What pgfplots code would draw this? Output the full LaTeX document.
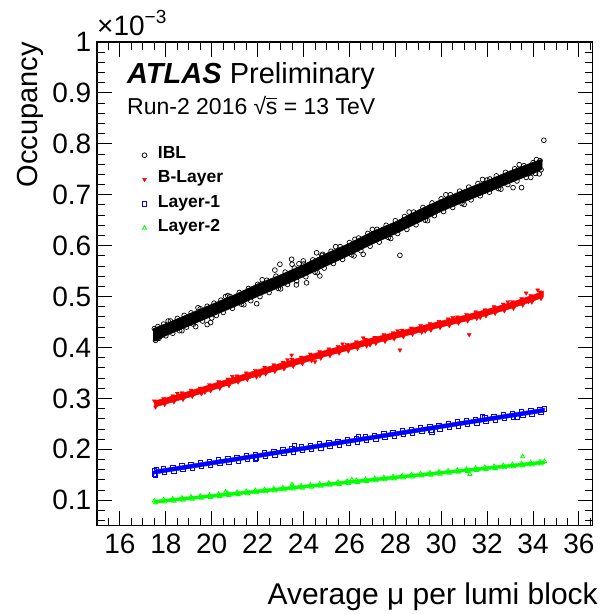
\documentclass[border=0pt]{standalone}
\usepackage{fontspec}
\setmainfont{Liberation Sans}
\usepackage{pgfplots}
\pgfplotsset{compat=1.18}
\definecolor{rootred}{RGB}{255,0,0}
\definecolor{rootblue}{RGB}{0,0,255}
\definecolor{rootgreen}{RGB}{0,255,0}
\begin{document}
\begin{tikzpicture}
\useasboundingbox (-97pt,-88.3pt) rectangle (507pt,525.7pt);
\begin{axis}[
  at={(0pt,0pt)}, anchor=south west,
  scale only axis, width=495.7pt, height=483.7pt,
  xmin=15, xmax=36.6, ymin=0.05, ymax=1.0,
  xtick={16,18,20,22,24,26,28,30,32,34,36},
  xticklabels={16,18,20,22,24,26,28,30,32,34,36},
  minor xtick={15,15.5,16,16.5,17,17.5,18,18.5,19,19.5,20,20.5,21,21.5,22,22.5,23,23.5,24,24.5,25,25.5,26,26.5,27,27.5,28,28.5,29,29.5,30,30.5,31,31.5,32,32.5,33,33.5,34,34.5,35,35.5,36,36.5},
  ytick={0.1,0.2,0.3,0.4,0.5,0.6,0.7,0.8,0.9,1.0},
  yticklabels={0.1,0.2,0.3,0.4,0.5,0.6,0.7,0.8,0.9,1},
  minor ytick={0.06,0.08,0.12,0.14,0.16,0.18,0.22,0.24,0.26,0.28,0.32,0.34,0.36,0.38,0.42,0.44,0.46,0.48,0.52,0.54,0.56,0.58,0.62,0.64,0.66,0.68,0.72,0.74,0.76,0.78,0.82,0.84,0.86,0.88,0.92,0.94,0.96,0.98},
  tick pos=both, tick align=inside,
  major tick length=15pt, minor tick length=8pt,
  every tick/.style={black, line width=0.9pt},
  axis line style={line width=1.2pt},
  ticklabel style={font=\fontsize{28}{28}\selectfont, inner sep=0pt},
  yticklabel style={xshift=-5.5pt},
  xticklabel style={yshift=-8.3pt},
  xlabel={Average μ per lumi block},
  xlabel style={at={(axis description cs:1.0107,-0.1633)}, anchor=base east, inner sep=0pt, font=\fontsize{30}{30}\selectfont},
  ylabel={Occupancy},
  ylabel style={at={(axis description cs:-0.120,1)}, anchor=base east, inner sep=0pt, font=\fontsize{29}{29}\selectfont},
  legend style={draw=none, fill=none, inner sep=0pt, outer sep=0pt,
    at={(axis description cs:0.091,0.791)}, anchor=north west,
    font=\fontsize{17.5}{17.5}\selectfont\bfseries, row sep=0pt,
    nodes={inner sep=0pt, text height=15.5pt, text depth=8.8pt},
    /tikz/every odd column/.append style={column sep=11pt}},
  legend cell align=left,
]
% ---------------- IBL ----------------
\addplot[fill=black, draw=black, line width=0.4pt, forget plot] coordinates {
(17.45,0.437) (17.6,0.440) (18,0.447) (19,0.466) (20,0.485) (21,0.504) (22,0.525) (23,0.543) (24,0.563) (25,0.585) (26,0.605) (27,0.628) (28,0.647) (29,0.670) (30,0.691) (31,0.710) (32,0.728) (33,0.747) (34,0.764) (34.4,0.770)
(34.4,0.750) (34,0.741) (33,0.723) (32,0.704) (31,0.686) (30,0.667) (29,0.645) (28,0.623) (27,0.603) (26,0.581) (25,0.560) (24,0.539) (23,0.519) (22,0.500) (21,0.480) (20,0.461) (19,0.442) (18,0.423) (17.6,0.413) (17.45,0.412) (17.45,0.437)};
\addplot[only marks, mark=o, mark size=2.4pt, black, mark options={line width=0.7pt}] coordinates {
(17.5,0.437) (17.55,0.414) (17.65,0.441) (17.7,0.418) (17.9,0.446) (18.0,0.423) (18.2,0.452) (18.3,0.428)
(18.5,0.457) (18.6,0.433) (18.8,0.463) (18.9,0.440) (19.1,0.468) (19.2,0.446) (19.3,0.441) (19.8,0.445) (19.95,0.449)
(19.5,0.476) (19.6,0.452) (19.8,0.481) (20.1,0.487) (20.2,0.463) (20.4,0.493) (20.5,0.469) (20.7,0.502)
(20.8,0.500) (20.9,0.477) (21.2,0.508) (21.3,0.485) (21.6,0.516) (21.7,0.492) (21.96,0.486) (22.0,0.524) (22.1,0.500)
(22.4,0.532) (22.5,0.508) (22.75,0.552) (22.8,0.540) (22.9,0.516) (22.97,0.5635) (23.2,0.548) (23.3,0.524)
(23.48,0.5733) (23.5,0.5635) (23.69,0.523) (23.6,0.556) (23.7,0.531) (23.99,0.570) (24.0,0.564) (24.1,0.539)
(24.13,0.527) (24.4,0.572) (24.5,0.548) (24.57,0.586) (24.71,0.5405) (24.8,0.581) (24.83,0.583) (24.9,0.556)
(25.2,0.589) (25.3,0.565) (25.6,0.598) (25.7,0.573) (26.0,0.606) (26.1,0.582) (26.24,0.6125) (26.4,0.615)
(26.5,0.590) (26.6,0.583) (26.8,0.624) (26.9,0.599) (27.2,0.632) (27.3,0.607) (27.6,0.640) (27.7,0.616)
(27.98,0.6386) (28.0,0.649) (28.1,0.624) (28.4,0.657) (28.5,0.632) (28.8,0.666) (28.9,0.641) (29.2,0.675)
(29.3,0.650) (29.5,0.676) (29.6,0.684) (29.7,0.659) (30.0,0.692) (30.08,0.684) (30.1,0.667) (30.4,0.700)
(30.5,0.675) (30.8,0.707) (30.9,0.683) (31.2,0.715) (31.3,0.690) (31.6,0.722) (31.7,0.698) (32.0,0.729)
(32.1,0.705) (32.12,0.731) (32.4,0.737) (32.5,0.712) (32.8,0.744) (32.9,0.720) (32.99,0.737) (33.13,0.714)
(33.2,0.751) (33.3,0.727) (33.5,0.714) (33.6,0.757) (33.7,0.734) (34.0,0.763) (34.1,0.742) (34.15,0.769)
(34.27,0.741) (34.3,0.767) (34.35,0.749) (28.2,0.581) (34.47,0.807)
(18.1,0.452) (18.7,0.433) (19.4,0.478) (20.0,0.458) (20.6,0.500) (21.4,0.484) (22.2,0.533) (23.0,0.515)
(23.8,0.5645) (24.6,0.547) (25.4,0.598) (26.2,0.580) (27.0,0.632) (27.8,0.614) (28.6,0.666) (29.4,0.649)
(30.2,0.700) (31.0,0.681) (31.8,0.730) (32.6,0.711) (33.4,0.759) (33.9,0.734)};
\addlegendentry{IBL}
% ---------------- B-Layer ----------------
\addplot[fill=rootred, draw=rootred, line width=0.4pt, forget plot] coordinates {
(17.5,0.295) (18,0.301) (19,0.314) (20,0.328) (21,0.342) (22,0.356) (23,0.369) (24,0.382) (25,0.395) (26,0.407) (27,0.419) (28,0.430) (29,0.441) (30,0.452) (31,0.463) (32,0.475) (33,0.488) (34,0.503) (34.45,0.511)
(34.45,0.499) (34,0.491) (33,0.476) (32,0.463) (31,0.451) (30,0.440) (29,0.429) (28,0.418) (27,0.407) (26,0.395) (25,0.383) (24,0.370) (23,0.357) (22,0.344) (21,0.330) (20,0.316) (19,0.302) (18,0.289) (17.5,0.283) (17.5,0.295)};
\addplot[only marks, mark=triangle*, mark size=2.3pt, color=rootred, fill=rootred, mark options={rotate=180, line width=0.3pt}] coordinates {
(17.5,0.295) (17.55,0.283) (17.9,0.300) (17.95,0.288) (18.3,0.305) (18.35,0.293) (18.7,0.311) (18.75,0.298)
(19.1,0.316) (19.15,0.304) (19.5,0.320) (19.55,0.309) (19.9,0.327) (19.95,0.315) (20.3,0.333) (20.35,0.320)
(20.7,0.338) (20.75,0.325) (21.1,0.344) (21.15,0.332) (21.5,0.350) (21.55,0.337) (21.9,0.355) (21.95,0.342)
(22.3,0.361) (22.35,0.348) (22.7,0.366) (22.75,0.353) (23.1,0.371) (23.15,0.358) (23.5,0.377) (23.55,0.363)
(23.9,0.381) (23.95,0.368) (24.3,0.387) (24.35,0.374) (24.7,0.392) (24.75,0.379) (25.1,0.397) (25.15,0.384)
(25.5,0.402) (25.55,0.389) (25.9,0.406) (25.95,0.393) (26.3,0.411) (26.35,0.398) (26.7,0.416) (26.75,0.403)
(27.1,0.420) (27.15,0.408) (27.5,0.425) (27.55,0.412) (27.9,0.429) (27.95,0.417) (28.3,0.434) (28.35,0.421)
(28.7,0.438) (28.75,0.426) (29.1,0.443) (29.15,0.430) (29.5,0.447) (29.55,0.434) (29.9,0.451) (29.95,0.439)
(30.3,0.456) (30.35,0.443) (30.7,0.460) (30.75,0.448) (31.1,0.465) (31.15,0.452) (31.5,0.470) (31.55,0.457)
(31.9,0.474) (31.95,0.462) (32.3,0.480) (32.35,0.467) (32.7,0.485) (32.75,0.472) (33.1,0.490) (33.15,0.477)
(33.5,0.496) (33.55,0.483) (33.9,0.502) (33.95,0.489) (34.3,0.509) (34.35,0.496)
(18.5,0.310) (19.7,0.312) (20.9,0.343) (22.1,0.345) (23.3,0.376) (24.5,0.372) (25.7,0.407) (26.9,0.405)
(28.1,0.433) (29.3,0.432) (30.5,0.459) (31.7,0.459) (32.9,0.490) (33.8,0.490)
(28.2,0.395) (31.22,0.425) (23.48,0.385) (33.7,0.507) (34.2,0.513) (26.6,0.419)};
\addlegendentry{B-Layer}
% ---------------- Layer-1 ----------------
\addplot[fill=rootblue, draw=rootblue, line width=0.4pt, forget plot] coordinates {
(17.5,0.1593) (18,0.1629) (19,0.1700) (20,0.1772) (21,0.1843) (22,0.1915) (23,0.1987) (24,0.2058) (25,0.2130) (26,0.2202) (27,0.2273) (28,0.2345) (29,0.2416) (30,0.2488) (31,0.2560) (32,0.2631) (33,0.2703) (34,0.2774) (34.5,0.2810)
(34.5,0.2730) (34,0.2694) (33,0.2623) (32,0.2551) (31,0.2480) (30,0.2408) (29,0.2336) (28,0.2265) (27,0.2193) (26,0.2122) (25,0.2050) (24,0.1978) (23,0.1907) (22,0.1835) (21,0.1763) (20,0.1692) (19,0.1620) (18,0.1549) (17.5,0.1513) (17.5,0.1593)};
\addplot[only marks, mark=square, mark size=2.2pt, color=rootblue, mark options={draw=rootblue, line width=0.8pt}] coordinates {
(17.5,0.159) (17.5,0.152) (17.55,0.150) (17.6,0.161) (17.9,0.1615) (17.95,0.1545) (18.3,0.1645) (18.35,0.1575)
(18.7,0.1675) (18.75,0.1605) (19.1,0.170) (19.15,0.163) (19.5,0.173) (19.55,0.166) (19.9,0.176) (19.95,0.169)
(20.3,0.179) (20.35,0.172) (20.7,0.182) (20.75,0.1745) (21.1,0.1845) (21.15,0.1775) (21.5,0.1875) (21.55,0.1805)
(21.9,0.190) (21.95,0.183) (22.3,0.193) (22.35,0.186) (22.7,0.196) (22.75,0.189) (23.1,0.199) (23.15,0.192)
(23.5,0.2015) (23.55,0.1945) (23.9,0.2045) (23.95,0.1975) (24.3,0.2075) (24.35,0.2005) (24.7,0.2105) (24.75,0.203)
(25.1,0.213) (25.15,0.206) (25.5,0.216) (25.55,0.209) (25.9,0.219) (25.95,0.212) (26.3,0.222) (26.35,0.2145)
(26.7,0.2245) (26.75,0.2175) (27.1,0.2275) (27.15,0.2205) (27.5,0.2305) (27.55,0.2235) (27.9,0.233) (27.95,0.226)
(28.3,0.236) (28.35,0.229) (28.7,0.239) (28.75,0.232) (29.1,0.242) (29.15,0.235) (29.5,0.245) (29.55,0.2375)
(29.9,0.2475) (29.95,0.2405) (30.3,0.2505) (30.35,0.2435) (30.7,0.2535) (30.75,0.246) (31.1,0.256) (31.15,0.249)
(31.5,0.259) (31.55,0.252) (31.9,0.262) (31.95,0.255) (32.3,0.265) (32.35,0.258) (32.7,0.2675) (32.75,0.2605)
(33.1,0.2705) (33.15,0.2635) (33.5,0.2735) (33.55,0.2665) (33.9,0.2765) (33.95,0.269) (34.3,0.279) (34.35,0.272) (34.5,0.2795)
(21.9,0.1805) (23.6,0.2075) (26.4,0.2255) (29.6,0.2345) (31.8,0.2645) (33.3,0.2625)};
\addlegendentry{Layer-1}
% ---------------- Layer-2 ----------------
\addplot[fill=rootgreen, draw=rootgreen, line width=0.4pt, forget plot] coordinates {
(17.5,0.1000) (18,0.1023) (19,0.1069) (20,0.1114) (21,0.1160) (22,0.1205) (23,0.1251) (24,0.1297) (25,0.1342) (26,0.1388) (27,0.1433) (28,0.1479) (29,0.1524) (30,0.1570) (31,0.1616) (32,0.1661) (33,0.1707) (34,0.1752) (34.5,0.1775)
(34.5,0.1715) (34,0.1692) (33,0.1647) (32,0.1601) (31,0.1556) (30,0.1510) (29,0.1464) (28,0.1419) (27,0.1373) (26,0.1328) (25,0.1282) (24,0.1237) (23,0.1191) (22,0.1145) (21,0.1100) (20,0.1054) (19,0.1009) (18,0.0963) (17.5,0.0940) (17.5,0.1000)};
\addplot[only marks, mark=triangle, mark size=2.4pt, color=rootgreen, mark options={draw=rootgreen, line width=0.8pt}] coordinates {
(17.5,0.099) (17.55,0.095) (17.9,0.101) (17.95,0.097) (18.3,0.1028) (18.35,0.0987) (18.7,0.1046) (18.75,0.1005)
(19.1,0.1064) (19.15,0.1023) (19.5,0.1083) (19.55,0.1042) (19.9,0.1101) (19.95,0.106) (20.3,0.1119) (20.35,0.1078)
(20.7,0.1137) (20.75,0.1096) (21.1,0.1155) (21.15,0.1114) (21.5,0.1174) (21.55,0.1133) (21.9,0.1192) (21.95,0.1151)
(22.3,0.121) (22.35,0.1169) (22.7,0.1228) (22.75,0.1187) (23.1,0.1247) (23.15,0.1206) (23.5,0.1265) (23.55,0.1224)
(23.9,0.1283) (23.95,0.1242) (24.3,0.1301) (24.35,0.126) (24.7,0.1319) (24.75,0.1278) (25.1,0.1338) (25.15,0.1297)
(25.5,0.1356) (25.55,0.1315) (25.9,0.1374) (25.95,0.1333) (26.3,0.1392) (26.35,0.1351) (26.7,0.1411) (26.75,0.137)
(27.1,0.1429) (27.15,0.1388) (27.5,0.1447) (27.55,0.1406) (27.9,0.1465) (27.95,0.1424) (28.3,0.1483) (28.35,0.1442)
(28.7,0.1502) (28.75,0.1461) (29.1,0.152) (29.15,0.1479) (29.5,0.1538) (29.55,0.1497) (29.9,0.1556) (29.95,0.1515)
(30.3,0.1575) (30.35,0.1534) (30.7,0.1593) (30.75,0.1552) (31.1,0.1611) (31.15,0.157) (31.5,0.1629) (31.55,0.1588)
(31.9,0.1648) (31.95,0.1607) (32.3,0.1666) (32.35,0.1625) (32.7,0.1684) (32.75,0.1643) (33.1,0.1702) (33.15,0.1661)
(33.5,0.172) (33.55,0.1679) (33.9,0.1739) (33.95,0.1698) (34.3,0.1757) (34.35,0.1716) (34.5,0.1765)
(33.55,0.1857) (31.25,0.151) (23.5,0.131) (20.6,0.1165) (26.1,0.1405)};
\addlegendentry{Layer-2}
\end{axis}
% annotations
\node[anchor=base west, inner sep=0pt, font=\fontsize{28}{28}\selectfont] at (0pt,489.7pt) {×10\raisebox{12pt}{\fontsize{19}{19}\selectfont −3}};
\node[anchor=base west, inner sep=0pt, font=\fontsize{29}{29}\selectfont] at (30pt,441.7pt) {\textbf{\textit{ATLAS}} Preliminary};
\node[anchor=base west, inner sep=0pt, font=\fontsize{23}{23}\selectfont] at (30pt,410.7pt) {Run-2 2016 √\kern-0.5pt\rlap{\rule[16.5pt]{0.5em}{0.9pt}}s = 13 TeV};
\end{tikzpicture}
\end{document}
